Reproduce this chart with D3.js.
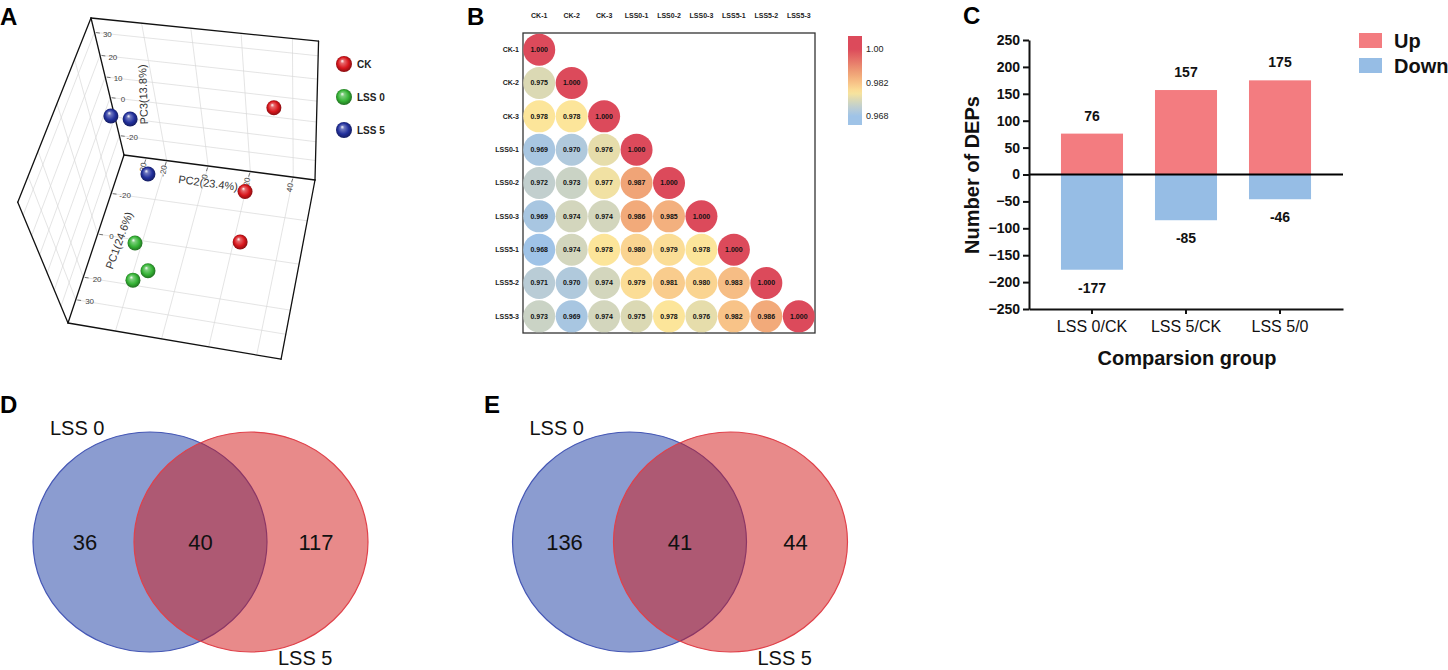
<!DOCTYPE html>
<html>
<head>
<meta charset="utf-8">
<script src="https://cdn.jsdelivr.net/npm/d3@7"></script>
<style>
  body { margin: 0; background: #fff; }
  text { font-family: Arial, "Liberation Sans", sans-serif; }
</style>
</head>
<body>
<svg id="fig" width="1448" height="670"></svg>
<script>
// ---------- data ----------
// A: PCA scores (3 replicates per group)
var pcaGroups = ["CK", "LSS 0", "LSS 5"];
var pcaColors = ["#d8161c", "#35b335", "#22309c"];
var pcGroup = [0, 0, 0, 1, 1, 1, 2, 2, 2];
var pc1 = [-25.4, -8, 11, 15.5, 26, 28.5, -28.7, -28.4, -15.5];
var pc2 = [35.3, 26.2, 28.2, -15, -6.4, -12.6, -36.5, -27.8, -18.5];
var pc3 = [19.3, -4.2, -7.6, -10.9, -10.9, -14.3, 2.5, 2.5, -10.9];
var pc1Ticks = [-20, 0, 20, 30];
var pc2Ticks = [-30, -20, 0, 20, 40];
var pc3Ticks = [-20, 0, 10, 20, 30];
var pc1Grid = [-20, 0, 20, 30];
var pc2Grid = [-20, 0, 20, 40];
var pc3Grid = [-20, -10, 0, 10, 20, 30];

// B: sample correlation (lower triangle)
var samples = ["CK-1", "CK-2", "CK-3", "LSS0-1", "LSS0-2", "LSS0-3", "LSS5-1", "LSS5-2", "LSS5-3"];
var corr = [
  [1.000],
  [0.975, 1.000],
  [0.978, 0.978, 1.000],
  [0.969, 0.970, 0.976, 1.000],
  [0.972, 0.973, 0.977, 0.987, 1.000],
  [0.969, 0.974, 0.974, 0.986, 0.985, 1.000],
  [0.968, 0.974, 0.978, 0.980, 0.979, 0.978, 1.000],
  [0.971, 0.970, 0.974, 0.979, 0.981, 0.980, 0.983, 1.000],
  [0.973, 0.969, 0.974, 0.975, 0.978, 0.976, 0.982, 0.986, 1.000]
];
var corrTicks = [0.968, 0.982, 1.00];
var corrTickLabels = ["0.968", "0.982", "1.00"];

// C: DEPs per comparison
var comparisons = ["LSS 0/CK", "LSS 5/CK", "LSS 5/0"];
var upCounts = [76, 157, 175];
var downCounts = [-177, -85, -46];
var yTicksC = [-250, -200, -150, -100, -50, 0, 50, 100, 150, 200, 250];

// D, E: Venn counts [LSS 0 only, both, LSS 5 only]
var vennSets = ["LSS 0", "LSS 5"];
var vennD = [36, 40, 117];
var vennE = [136, 41, 44];

// ---------- figure ----------
var svg = d3.select("#fig");
svg.append("rect").attr("width", 1448).attr("height", 670).attr("fill", "#fff");

var letters = [["A", 0, 25], ["B", 467, 25], ["C", 963, 24], ["D", 0, 413], ["E", 484, 413]];
svg.selectAll("text.letter").data(letters).enter().append("text")
  .attr("class", "letter")
  .attr("x", d => d[1]).attr("y", d => d[2])
  .attr("font-size", 24).attr("font-weight", "bold").attr("fill", "#000")
  .text(d => d[0]);

var defs = svg.append("defs");

// ===== A : 3D PCA =====
var gA = svg.append("g");
var O = [124, 155], Av = [-56, 168], Bv = [191, 25], Cv = [-33, -137];
var kD = 0.89, kE = 0.96, kF = 0.84;   // perspective factors
var su = d3.scaleLinear().domain([-40, 40]).range([0, 1]);
var sv = d3.scaleLinear().domain([-41, 50]).range([0, 1]);
var sw = d3.scaleLinear().domain([-31, 36]).range([0, 1]);

function proj(a, b, c) {
  var den = 1 + (kD - 1) * a + (kE - 1) * b + (kF - 1) * c;
  return [
    O[0] + (kD * a * Av[0] + kE * b * Bv[0] + kF * c * Cv[0]) / den,
    O[1] + (kD * a * Av[1] + kE * b * Bv[1] + kF * c * Cv[1]) / den,
    den
  ];
}
function unit(p) { var l = Math.hypot(p[0], p[1]); return [p[0] / l, p[1] / l]; }
var uA = unit(Av), uB = unit(Bv);

function line(g, p, q, col, wd) {
  g.append("line").attr("x1", p[0]).attr("y1", p[1]).attr("x2", q[0]).attr("y2", q[1])
    .attr("stroke", col).attr("stroke-width", wd).attr("stroke-linecap", "round");
}

// grid
var gridCol = "#d9d9d9";
pc2Grid.forEach(function (g) {
  line(gA, proj(0, sv(g), 0), proj(0, sv(g), 1), gridCol, 0.7);
  line(gA, proj(0, sv(g), 0), proj(1, sv(g), 0), gridCol, 0.7);
});
pc3Grid.forEach(function (g) {
  line(gA, proj(0, 0, sw(g)), proj(0, 1, sw(g)), gridCol, 0.7);
  line(gA, proj(0, 0, sw(g)), proj(1, 0, sw(g)), gridCol, 0.7);
});
pc1Grid.forEach(function (g) {
  line(gA, proj(su(g), 0, 0), proj(su(g), 1, 0), gridCol, 0.7);
  line(gA, proj(su(g), 0, 0), proj(su(g), 0, 1), gridCol, 0.7);
});

// box edges
var edges = [
  [[0, 0, 0], [0, 0, 1]], [[0, 0, 0], [0, 1, 0]], [[0, 0, 0], [1, 0, 0]],
  [[0, 0, 1], [0, 1, 1]], [[0, 1, 1], [0, 1, 0]], [[0, 0, 1], [1, 0, 1]],
  [[1, 0, 1], [1, 0, 0]], [[1, 0, 0], [1, 1, 0]], [[0, 1, 0], [1, 1, 0]]
];
edges.forEach(function (e) { line(gA, proj.apply(null, e[0]), proj.apply(null, e[1]), "#111", 1.3); });

// ticks + labels
function tickLab(p, dir, off, txt, rot) {
  line(gA, [p[0] + dir[0] * 2, p[1] + dir[1] * 2], [p[0] + dir[0] * 5, p[1] + dir[1] * 5], "#555", 0.8);
  var x = p[0] + dir[0] * off, y = p[1] + dir[1] * off;
  gA.append("text").attr("x", x).attr("y", y).attr("dy", "0.35em")
    .attr("text-anchor", "middle").attr("font-size", 8).attr("fill", "#444")
    .attr("transform", rot ? "rotate(" + rot + "," + x + "," + y + ")" : null)
    .text(txt);
}
pc3Ticks.forEach(function (t) { tickLab(proj(0, 0, sw(t)), uB, 13, t); });
pc1Ticks.forEach(function (t) { tickLab(proj(su(t), 0, 0), uB, 14, t); });
pc2Ticks.forEach(function (t) { tickLab(proj(0, sv(t), 0), uA, 11, t, -80); });

function axTitle(x, y, rot, txt) {
  gA.append("text").attr("x", x).attr("y", y).attr("dy", "0.35em")
    .attr("text-anchor", "middle").attr("font-size", 11).attr("fill", "#333")
    .attr("transform", "rotate(" + rot + "," + x + "," + y + ")").text(txt);
}
var t3 = proj(0, 0, sw(2));
axTitle(t3[0] + 34, t3[1] + 1, -92, "PC3(13.8%)");
var t2 = proj(0, sv(0), 0);
axTitle(t2[0], t2[1] + 17, 7.5, "PC2(23.4%)");
var t1 = proj(su(2), 0, 0);
axTitle(t1[0] + 23, t1[1] + 2, -70, "PC1(24.6%)");

// sphere gradients
pcaColors.forEach(function (c, i) {
  var gr = defs.append("radialGradient").attr("id", "sph" + i)
    .attr("cx", "50%").attr("cy", "50%").attr("r", "55%").attr("fx", "38%").attr("fy", "30%");
  gr.append("stop").attr("offset", "0%").attr("stop-color", "#ffffff");
  gr.append("stop").attr("offset", "22%").attr("stop-color", d3.interpolateRgb(c, "#fff")(0.35));
  gr.append("stop").attr("offset", "62%").attr("stop-color", c);
  gr.append("stop").attr("offset", "100%").attr("stop-color", d3.interpolateRgb(c, "#000")(0.45));
});

var pts = pc1.map(function (d, i) {
  var p = proj(su(pc1[i]), sv(pc2[i]), sw(pc3[i]));
  return { x: p[0], y: p[1], den: p[2], g: pcGroup[i] };
}).sort(function (a, b) { return b.den - a.den; });
gA.selectAll("circle.pt").data(pts).enter().append("circle")
  .attr("class", "pt").attr("cx", d => d.x).attr("cy", d => d.y).attr("r", 7.5)
  .attr("fill", d => "url(#sph" + d.g + ")");

// legend
var legA = gA.selectAll("g.leg").data(pcaGroups).enter().append("g")
  .attr("transform", (d, i) => "translate(344," + (64 + i * 33) + ")");
legA.append("circle").attr("r", 8).attr("fill", (d, i) => "url(#sph" + i + ")");
legA.append("text").attr("x", 13).attr("dy", "0.35em").attr("font-size", 10)
  .attr("font-weight", "bold").attr("fill", "#222").text(d => d);

// ===== B : correlation =====
var gB = svg.append("g");
var xB = d3.scaleBand().domain(samples).range([523, 815]);
var yB = d3.scaleBand().domain(samples).range([33, 333]);
var corrColor = d3.scaleLinear()
  .domain([0.968, 0.971, 0.975, 0.978, 0.982, 0.987, 1.0])
  .range(["#9fc3e7", "#b9ccd6", "#dbd9b4", "#fce59a", "#f8c388", "#f0a477", "#dc4a5b"])
  .clamp(true);

gB.append("rect").attr("x", 523).attr("y", 33).attr("width", 292).attr("height", 300)
  .attr("fill", "none").attr("stroke", "#333").attr("stroke-width", 1.3);

var cells = [];
corr.forEach(function (row, i) {
  row.forEach(function (val, j) { cells.push({ r: samples[i], c: samples[j], v: val }); });
});
var cellG = gB.selectAll("g.cell").data(cells).enter().append("g")
  .attr("transform", d => "translate(" + (xB(d.c) + xB.bandwidth() / 2) + "," + (yB(d.r) + yB.bandwidth() / 2) + ")");
cellG.append("circle").attr("r", 16).attr("fill", d => corrColor(d.v));
cellG.append("text").attr("text-anchor", "middle").attr("dy", "0.35em")
  .attr("font-size", 7).attr("font-weight", "bold").attr("fill", "#111")
  .text(d => d.v.toFixed(3));

gB.selectAll("text.col").data(samples).enter().append("text")
  .attr("x", d => xB(d) + xB.bandwidth() / 2).attr("y", 16).attr("dy", "0.35em")
  .attr("text-anchor", "middle").attr("font-size", 7).attr("font-weight", "bold").attr("fill", "#222")
  .text(d => d);
gB.selectAll("text.row").data(samples).enter().append("text")
  .attr("x", 519).attr("y", d => yB(d) + yB.bandwidth() / 2).attr("dy", "0.35em")
  .attr("text-anchor", "end").attr("font-size", 7).attr("font-weight", "bold").attr("fill", "#222")
  .text(d => d);

// colour bar
var barY = d3.scaleLinear().domain(corrTicks).range([116, 83, 49]);
var cbGrad = defs.append("linearGradient").attr("id", "cbar").attr("x1", 0).attr("y1", 1).attr("x2", 0).attr("y2", 0);
d3.range(0, 1.0001, 0.05).forEach(function (t) {
  var yy = 125 - t * (125 - 36);
  cbGrad.append("stop").attr("offset", t).attr("stop-color", corrColor(barY.invert(yy)));
});
gB.append("rect").attr("x", 848).attr("y", 36).attr("width", 14).attr("height", 89).attr("fill", "url(#cbar)");
gB.selectAll("text.cb").data(corrTicks).enter().append("text")
  .attr("x", 866).attr("y", d => barY(d)).attr("dy", "0.35em")
  .attr("font-size", 9).attr("fill", "#222")
  .text((d, i) => corrTickLabels[i]);

// ===== C : DEP bars =====
var gC = svg.append("g");
var xC = d3.scaleBand().domain(comparisons).range([1029, 1343]).padding(0.34);
var yC = d3.scaleLinear().domain([-250, 250]).range([309, 40]);
var upCol = "#f37c80", downCol = "#96bde5";

gC.selectAll("rect.up").data(upCounts).enter().append("rect")
  .attr("x", (d, i) => xC(comparisons[i])).attr("width", xC.bandwidth())
  .attr("y", d => yC(d)).attr("height", d => yC(0) - yC(d)).attr("fill", upCol);
gC.selectAll("rect.down").data(downCounts).enter().append("rect")
  .attr("x", (d, i) => xC(comparisons[i])).attr("width", xC.bandwidth())
  .attr("y", yC(0)).attr("height", d => yC(d) - yC(0)).attr("fill", downCol);

gC.selectAll("text.upv").data(upCounts).enter().append("text")
  .attr("x", (d, i) => xC(comparisons[i]) + xC.bandwidth() / 2).attr("y", d => yC(d) - 18)
  .attr("dy", "0.35em").attr("text-anchor", "middle")
  .attr("font-size", 14).attr("font-weight", "bold").attr("fill", "#111").text(d => d);
gC.selectAll("text.downv").data(downCounts).enter().append("text")
  .attr("x", (d, i) => xC(comparisons[i]) + xC.bandwidth() / 2).attr("y", d => yC(d) + 18)
  .attr("dy", "0.35em").attr("text-anchor", "middle")
  .attr("font-size", 14).attr("font-weight", "bold").attr("fill", "#111").text(d => d);

gC.append("line").attr("x1", 1029).attr("x2", 1343).attr("y1", yC(0)).attr("y2", yC(0))
  .attr("stroke", "#000").attr("stroke-width", 2);

var yAxC = gC.append("g").attr("transform", "translate(1029,0)")
  .call(d3.axisLeft(yC).tickValues(yTicksC).tickSize(6).tickSizeOuter(0).tickPadding(3));
yAxC.selectAll("text").attr("font-size", 14).attr("font-weight", "bold").attr("fill", "#111")
  .attr("font-family", "Arial, 'Liberation Sans', sans-serif");
yAxC.selectAll("line, path").attr("stroke", "#111").attr("stroke-width", 2);

var xAxC = gC.append("g").attr("transform", "translate(0,309)")
  .call(d3.axisBottom(xC).tickSize(5).tickSizeOuter(0).tickPadding(7));
xAxC.selectAll("text").attr("font-size", 16).attr("fill", "#111")
  .attr("font-family", "Arial, 'Liberation Sans', sans-serif");
xAxC.selectAll("line, path").attr("stroke", "#111").attr("stroke-width", 2);

gC.append("text").attr("x", 1187).attr("y", 358).attr("dy", "0.35em").attr("text-anchor", "middle")
  .attr("font-size", 20).attr("font-weight", "bold").attr("fill", "#111").text("Comparsion group");
gC.append("text").attr("transform", "translate(972,175) rotate(-90)").attr("dy", "0.35em")
  .attr("text-anchor", "middle").attr("font-size", 20).attr("font-weight", "bold").attr("fill", "#111")
  .text("Number of DEPs");

var legC = gC.selectAll("g.legc").data([["Up", upCol], ["Down", downCol]]).enter().append("g")
  .attr("transform", (d, i) => "translate(1359," + (33 + i * 25) + ")");
legC.append("rect").attr("width", 23).attr("height", 15).attr("fill", d => d[1]);
legC.append("text").attr("x", 35).attr("y", 7.5).attr("dy", "0.35em")
  .attr("font-size", 20).attr("font-weight", "bold").attr("fill", "#111").text(d => d[0]);

// ===== D, E : Venn =====
function venn(cx0, counts) {
  var g = svg.append("g");
  var cy = 542, rx = 117, ry = 110, gap = 101;
  g.append("ellipse").attr("cx", cx0).attr("cy", cy).attr("rx", rx).attr("ry", ry)
    .attr("fill", "#173aa1").attr("fill-opacity", 0.5).attr("stroke", "#4557b5").attr("stroke-width", 1.2);
  g.append("ellipse").attr("cx", cx0 + gap).attr("cy", cy).attr("rx", rx).attr("ry", ry)
    .attr("fill", "#d11515").attr("fill-opacity", 0.5).attr("stroke", "#e0414a").attr("stroke-width", 1.2);
  var lx = d3.scalePoint().domain([0, 1, 2]).range([cx0 - 65, cx0 + gap + 65]);
  g.selectAll("text.n").data(counts).enter().append("text")
    .attr("x", (d, i) => lx(i)).attr("y", cy).attr("dy", "0.35em").attr("text-anchor", "middle")
    .attr("font-size", 22).attr("fill", "#111").text(d => d);
  g.append("text").attr("x", cx0 - 100).attr("y", 435).attr("font-size", 20).attr("fill", "#111").text(vennSets[0]);
  g.append("text").attr("x", cx0 + gap + 27).attr("y", 665).attr("font-size", 20).attr("fill", "#111").text(vennSets[1]);
}
venn(150, vennD);
venn(629.5, vennE);
</script>
</body>
</html>
